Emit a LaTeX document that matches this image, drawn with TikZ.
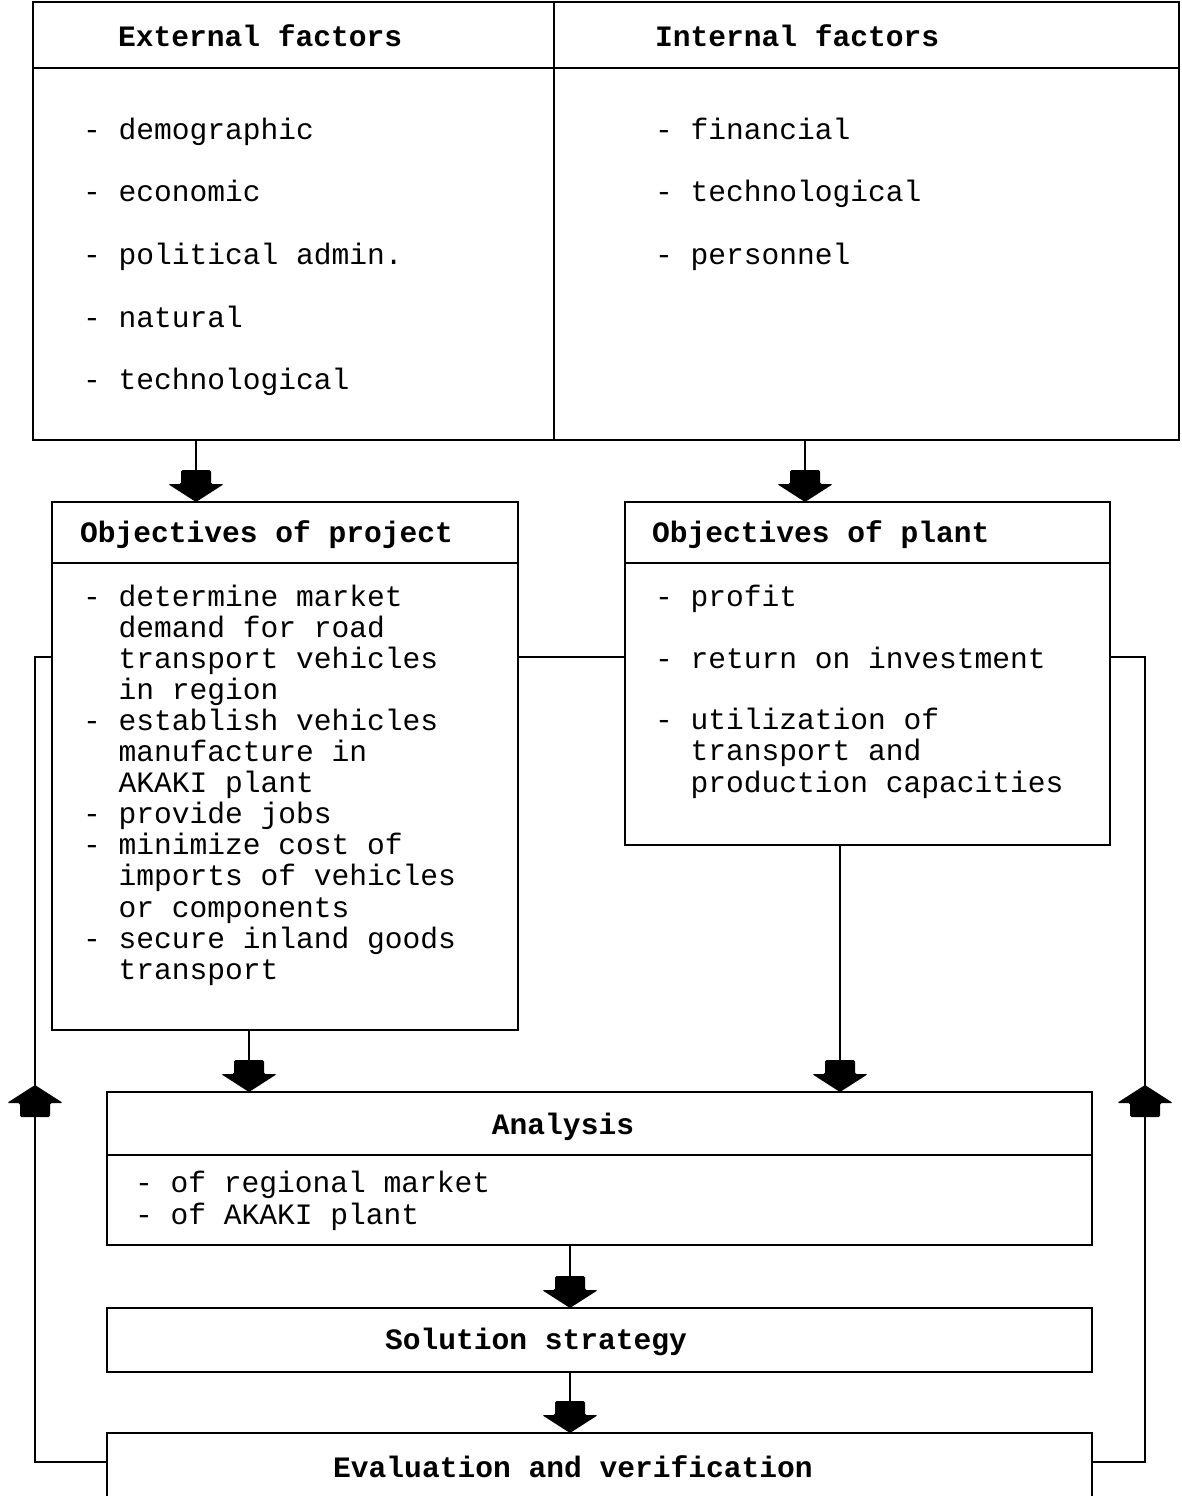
\documentclass[tikz,border=0pt]{standalone}
\usepackage{fontspec}
\setmonofont{Liberation Mono}
\begin{document}
\begin{tikzpicture}[x=1pt,y=-1pt,line width=2.2pt,
  every node/.style={inner sep=0pt,outer sep=0pt},
  txt/.style={anchor=base west,font=\ttfamily\fontsize{29.6}{31}\selectfont},
  ttl/.style={anchor=base west,font=\ttfamily\bfseries\fontsize{29.6}{31}\selectfont},
  ttlc/.style={anchor=base,font=\ttfamily\bfseries\fontsize{29.6}{31}\selectfont},
  box/.style={draw,anchor=north west},
  bdown/.pic={\fill[rounded corners=1.5pt] (0,0) -- (-28,-18) -- (-15,-18) -- (-15,-32) -- (15,-32) -- (15,-18) -- (28,-18) -- cycle;}
]
\useasboundingbox (0,0) rectangle (1181,1496);
\path[clip] (0,0) rectangle (1181,1496);

% boxes
\node[box,minimum width=1146pt,minimum height=438pt] (ext) at (33,2) {};
\node[box,minimum width=466pt,minimum height=528pt] (proj) at (52,502) {};
\node[box,minimum width=485pt,minimum height=343pt] (plant) at (625,502) {};
\node[box,minimum width=985pt,minimum height=153pt] (ana) at (107,1092) {};
\node[box,minimum width=985pt,minimum height=64pt] (sol) at (107,1308) {};
\node[box,minimum width=985pt,minimum height=120pt] (eval) at (107,1433) {};

% dividers
\coordinate (d1) at (554,0);
\draw (ext.north -| d1) -- (ext.south -| d1);
\coordinate (h1) at (0,68);
\draw (ext.west |- h1) -- (ext.east |- h1);
\coordinate (h2) at (0,563);
\draw (proj.west |- h2) -- (proj.east |- h2);
\draw (plant.west |- h2) -- (plant.east |- h2);
\coordinate (h3) at (0,1155);
\draw (ana.west |- h3) -- (ana.east |- h3);

% top texts
\node[ttl] (t1) at (118,47) {External factors};
\node[ttl] (t2) at (655,47) {Internal factors};
\node[txt] (e1) at (83,139) {- demographic};
\node[txt] (e2) at (83,201) {- economic};
\node[txt] (e3) at (83,264) {- political admin.};
\node[txt] (e4) at (83,327) {- natural};
\node[txt] (e5) at (83,389) {- technological};
\node[txt] (i1) at (655,139) {- financial};
\node[txt] (i2) at (655,201) {- technological};
\node[txt] (i3) at (655,264) {- personnel};

% objectives of project
\node[ttl] (pt) at (80,542) {Objectives of project};
\foreach \t [count=\i] in {{- determine market},{\hphantom{- }demand for road},{\hphantom{- }transport vehicles},{\hphantom{- }in region},{- establish vehicles},{\hphantom{- }manufacture in},{\hphantom{- }AKAKI plant},{- provide jobs},{- minimize cost of},{\hphantom{- }imports of vehicles},{\hphantom{- }or components},{- secure inland goods},{\hphantom{- }transport}}
  \node[txt] (p\i) at (83,{606+31.1*(\i-1)}) {\t};

% objectives of plant
\node[ttl] (qt) at (652,542) {Objectives of plant};
\node[txt] (q1) at (655,606) {- profit};
\node[txt] (q2) at (655,668) {- return on investment};
\node[txt] (q3) at (655,729) {- utilization of};
\node[txt] (q4) at (655,760) {\hphantom{- }transport and};
\node[txt] (q5) at (655,792) {\hphantom{- }production capacities};

% analysis etc
\node[ttlc] (at) at (563,1134) {Analysis};
\node[txt] (a1) at (135,1192) {- of regional market};
\node[txt] (a2) at (135,1224) {- of AKAKI plant};
\node[ttlc] (st) at (536,1349) {Solution strategy};
\node[ttlc] (vt) at (573,1477) {Evaluation and verification};

% down arrows
\coordinate (pin) at (196,502);
\draw (pin |- ext.south) -- (pin);
\pic at (pin) {bdown};
\coordinate (qin) at (805,502);
\draw (qin |- ext.south) -- (qin);
\pic at (qin) {bdown};
\coordinate (a1in) at (249,1092);
\draw (a1in |- proj.south) -- (a1in);
\pic at (a1in) {bdown};
\coordinate (a2in) at (840,1092);
\draw (a2in |- plant.south) -- (a2in);
\pic at (a2in) {bdown};
\coordinate (sin) at (570,1308);
\draw (sin |- ana.south) -- (sin);
\pic at (sin) {bdown};
\coordinate (vin) at (570,1433);
\draw (vin |- sol.south) -- (vin);
\pic at (vin) {bdown};

% connector between objectives
\coordinate (fbL) at (35,657);
\coordinate (fbLb) at (35,1462);
\coordinate (fbR) at (1145,657);
\coordinate (fbRb) at (1145,1462);
\draw (proj.east |- fbL) -- (plant.west |- fbL);

% feedback loops
\draw (eval.west |- fbLb) -- (fbLb) -- (fbL) -- (proj.west |- fbL);
\draw (eval.east |- fbRb) -- (fbRb) -- (fbR) -- (plant.east |- fbR);
\coordinate (upL) at (35,1085);
\coordinate (upR) at (1145,1085);
\pic[rotate=180] at (upL) {bdown};
\pic[rotate=180] at (upR) {bdown};
\end{tikzpicture}
\end{document}
